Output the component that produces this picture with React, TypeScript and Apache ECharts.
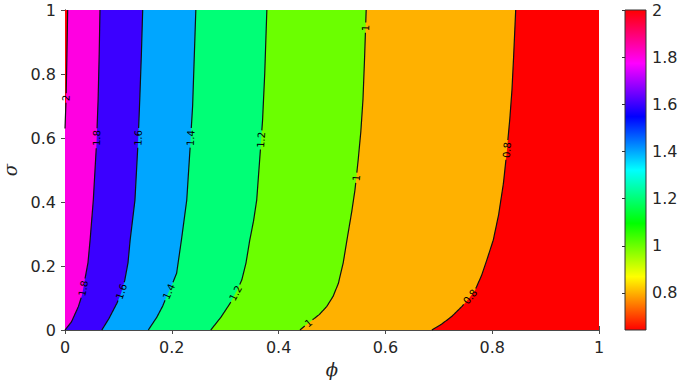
import React, { useEffect, useRef } from "react";
import * as echarts from "echarts";

// Contour levels and the colour range of the colour bar
const levels = [0.8, 1, 1.2, 1.4, 1.6, 1.8, 2];
const colorMin = 0.643;
const colorMax = 2;
const colorbarTicks = [0.8, 1, 1.2, 1.4, 1.6, 1.8, 2];

// Contour lines, [phi, sigma] pairs (sigma ascending)
const contour08 = [[0.687, 0], [0.705, 0.018], [0.724, 0.042], [0.743, 0.073], [0.757, 0.1], [0.768, 0.125], [0.78, 0.17], [0.79, 0.219], [0.802, 0.281], [0.812, 0.36], [0.821, 0.458], [0.827, 0.552], [0.833, 0.66], [0.837, 0.75], [0.84, 0.85], [0.844, 1.0]];
const contour10 = [[0.44, 0], [0.459, 0.026], [0.476, 0.048], [0.49, 0.073], [0.502, 0.105], [0.512, 0.146], [0.521, 0.21], [0.528, 0.281], [0.537, 0.37], [0.543, 0.4375], [0.549, 0.531], [0.554, 0.62], [0.558, 0.72], [0.561, 0.85], [0.564, 1.0]];
const contour12 = [[0.273, 0], [0.292, 0.04], [0.309, 0.083], [0.321, 0.12], [0.331, 0.156], [0.339, 0.21], [0.346, 0.281], [0.353, 0.34], [0.359, 0.406], [0.365, 0.542], [0.37, 0.656], [0.374, 0.8], [0.378, 1.0]];
const contour14 = [[0.156, 0], [0.172, 0.04], [0.183, 0.075], [0.19, 0.104], [0.2, 0.14], [0.209, 0.177], [0.218, 0.281], [0.228, 0.406], [0.234, 0.5625], [0.239, 0.7], [0.242, 0.85], [0.245, 1.0]];
const contour16 = [[0.069, 0], [0.082, 0.035], [0.097, 0.083], [0.105, 0.115], [0.112, 0.156], [0.118, 0.21], [0.122, 0.281], [0.131, 0.406], [0.137, 0.594], [0.14, 0.72], [0.143, 0.86], [0.1455, 1.0]];
const contour18 = [[0, 0], [0.012, 0.025], [0.025, 0.073], [0.032, 0.11], [0.037, 0.156], [0.043, 0.21], [0.047, 0.281], [0.053, 0.406], [0.059, 0.583], [0.062, 0.72], [0.064, 0.86], [0.0655, 1.0]];
const contour20 = [[0, 0.63], [0.002, 0.72], [0.0035, 0.85], [0.005, 1.0]];
const contours = [contour08, contour10, contour12, contour14, contour16, contour18, contour20];

// sigma positions of the in-line contour labels, one list per level
const labelSigmas = [[0.104, 0.5625], [0.022, 0.475, 0.944], [0.115, 0.594], [0.12, 0.6], [0.12, 0.6], [0.13, 0.6], [0.725]];

function hsv(v: number): string {
  let h = ((v - colorMin) / (colorMax - colorMin)) * 6;
  h = Math.max(0, Math.min(6, h));
  const i = Math.floor(h) % 6;
  const f = h - Math.floor(h);
  let r = 0, g = 0, b = 0;
  if (h >= 6) { r = 1; g = 0; b = 0; }
  else if (i === 0) { r = 1; g = f; b = 0; }
  else if (i === 1) { r = 1 - f; g = 1; b = 0; }
  else if (i === 2) { r = 0; g = 1; b = f; }
  else if (i === 3) { r = 0; g = 1 - f; b = 1; }
  else if (i === 4) { r = f; g = 0; b = 1; }
  else { r = 1; g = 0; b = 1 - f; }
  const c = (x: number) => Math.round(x * 255);
  return `rgb(${c(r)},${c(g)},${c(b)})`;
}

function phiAt(c: number[][], s: number): number {
  if (s <= c[0][1]) return c[0][0];
  for (let k = 1; k < c.length; k++) {
    if (s <= c[k][1]) {
      const t = (s - c[k - 1][1]) / (c[k][1] - c[k - 1][1]);
      return c[k - 1][0] + t * (c[k][0] - c[k - 1][0]);
    }
  }
  return c[c.length - 1][0];
}

function textWidth(t: string, fs: number): number {
  let w = 0;
  for (const ch of t) w += ch === "." ? 0.318 * fs : 0.636 * fs;
  return w;
}

const LABEL_FS = 10;

export default function App() {
  const ref = useRef<HTMLDivElement>(null);
  useEffect(() => {
    if (!ref.current) return;
    const chart = echarts.init(ref.current, null, { renderer: "svg" });
    const axisColor = "#4a4a4a";
    const textColor = "#262626";
    const font = "DejaVu Sans";

    const fillRender = (params: any, api: any) => {
      const i = params.dataIndex;
      if (i === 0) {
        const a = api.coord([0, 0]);
        const b = api.coord([1, 1]);
        return {
          type: "rect",
          shape: { x: a[0], y: b[1], width: b[0] - a[0], height: a[1] - b[1] },
          style: { fill: hsv(colorMin) },
        };
      }
      const c = contours[i - 1];
      const pts = c.map((p) => api.coord(p));
      pts.push(api.coord([0, 1]));
      pts.push(api.coord([0, 0]));
      return {
        type: "polygon",
        shape: { points: pts },
        style: { fill: hsv(levels[i - 1]) },
      };
    };

    const lineRender = (params: any, api: any) => {
      const i = params.dataIndex;
      const c = contours[i];
      const lvl = levels[i];
      const txt = String(lvl);
      const r = textWidth(txt, LABEL_FS) / 2 + 1.5;
      const labels = labelSigmas[i].map((s) => {
        const p = api.coord([phiAt(c, s), s]);
        const s0 = Math.max(c[0][1], s - 0.02);
        const s1 = Math.min(c[c.length - 1][1], s + 0.02);
        const a = api.coord([phiAt(c, s0), s0]);
        const b = api.coord([phiAt(c, s1), s1]);
        let ang = Math.atan2(-(b[1] - a[1]), b[0] - a[0]);
        if (ang > Math.PI / 2) ang -= Math.PI;
        if (ang <= -Math.PI / 2) ang += Math.PI;
        return { p, ang };
      });
      const px = c.map((q) => api.coord(q));
      const dense: number[][] = [];
      for (let k = 0; k < px.length - 1; k++) {
        const a = px[k], b = px[k + 1];
        const d = Math.hypot(b[0] - a[0], b[1] - a[1]);
        const n = Math.max(1, Math.ceil(d / 0.8));
        for (let j = 0; j < n; j++) {
          const t = j / n;
          dense.push([a[0] + t * (b[0] - a[0]), a[1] + t * (b[1] - a[1])]);
        }
      }
      dense.push(px[px.length - 1]);
      const runs: number[][][] = [];
      let cur: number[][] = [];
      for (const q of dense) {
        const inGap = labels.some((L) => Math.hypot(q[0] - L.p[0], q[1] - L.p[1]) < r);
        if (inGap) {
          if (cur.length > 1) runs.push(cur);
          cur = [];
        } else cur.push(q);
      }
      if (cur.length > 1) runs.push(cur);
      const children: any[] = runs.map((run) => ({
        type: "polyline",
        shape: { points: run },
        style: { stroke: "#111", lineWidth: 1.2, fill: null },
      }));
      labels.forEach((L) => {
        children.push({
          type: "text",
          x: L.p[0],
          y: L.p[1],
          rotation: L.ang,
          style: {
            text: txt,
            x: 0,
            y: 0,
            fontSize: LABEL_FS,
            fontFamily: font,
            fill: "#000",
            align: "center",
            verticalAlign: "middle",
          },
        });
      });
      return { type: "group", children };
    };

    const colorbarRender = (params: any, api: any) => {
      const a = api.coord([0, colorMin]);
      const b = api.coord([1, colorMax]);
      const stops = [0, 1, 2, 3, 4, 5, 6].map((k) => ({
        offset: k / 6,
        color: hsv(colorMin + (k / 6) * (colorMax - colorMin)),
      }));
      return {
        type: "rect",
        shape: { x: a[0], y: b[1], width: b[0] - a[0], height: a[1] - b[1] },
        style: {
          fill: new echarts.graphic.LinearGradient(0, 1, 0, 0, stops),
          stroke: "#333",
          lineWidth: 1,
        },
      };
    };

    const mainAxisCommon = {
      min: 0,
      max: 1,
      interval: 0.2,
      axisLine: { show: true, lineStyle: { color: axisColor, width: 1 } },
      axisTick: { show: true, inside: true, length: 4, lineStyle: { color: axisColor } },
      splitLine: { show: false },
    };

    chart.setOption({
      animation: false,
      backgroundColor: "#fff",
      grid: [
        { left: 65, top: 10, width: 534, height: 320, outerBoundsMode: "none", containLabel: false },
        { left: 625, top: 10, width: 21, height: 320, outerBoundsMode: "none", containLabel: false },
      ],
      xAxis: [
        {
          type: "value",
          gridIndex: 0,
          position: "bottom",
          ...mainAxisCommon,
          axisLabel: { fontSize: 16, color: textColor, fontFamily: font, margin: 9 },
          name: "ϕ",
          nameLocation: "middle",
          nameGap: 30,
          nameTextStyle: { fontSize: 18, fontStyle: "italic", fontFamily: "DejaVu Serif", color: textColor },
        },
        {
          type: "value",
          gridIndex: 0,
          position: "top",
          ...mainAxisCommon,
          axisLabel: { show: false },
        },
        {
          type: "value",
          gridIndex: 1,
          min: 0,
          max: 1,
          show: false,
        },
      ],
      yAxis: [
        {
          type: "value",
          gridIndex: 0,
          position: "left",
          ...mainAxisCommon,
          axisLabel: { fontSize: 16, color: textColor, fontFamily: font, margin: 9 },
          name: "σ",
          nameLocation: "middle",
          nameGap: 38,
          nameRotate: 90,
          nameTextStyle: { fontSize: 18, fontStyle: "italic", fontFamily: "DejaVu Serif", color: textColor },
        },
        {
          type: "value",
          gridIndex: 0,
          position: "right",
          ...mainAxisCommon,
          axisLabel: { show: false },
        },
        {
          type: "value",
          gridIndex: 1,
          position: "right",
          min: colorMin,
          max: colorMax,
          axisLine: { show: false },
          splitLine: { show: false },
          axisTick: { show: true, inside: true, length: 3, customValues: colorbarTicks, lineStyle: { color: "#333" } },
          axisLabel: { show: true, customValues: colorbarTicks, fontSize: 16, color: textColor, fontFamily: font, margin: 6 },
        },
      ],
      series: [
        {
          type: "custom",
          xAxisIndex: 0,
          yAxisIndex: 0,
          renderItem: fillRender,
          data: [0, ...levels].map((v, k) => [k, v]),
          z: 1,
          silent: true,
        },
        {
          type: "custom",
          xAxisIndex: 0,
          yAxisIndex: 0,
          renderItem: lineRender,
          data: levels.map((v, k) => [k, v]),
          z: 3,
          silent: true,
        },
        {
          type: "custom",
          xAxisIndex: 2,
          yAxisIndex: 2,
          renderItem: colorbarRender,
          data: [[0, colorMin]],
          z: 1,
          silent: true,
        },
      ],
    });
    return () => chart.dispose();
  }, []);
  return (
    <div
      ref={ref}
      style={{ position: "fixed", left: 0, top: 0, width: 680, height: 381 }}
    />
  );
}
